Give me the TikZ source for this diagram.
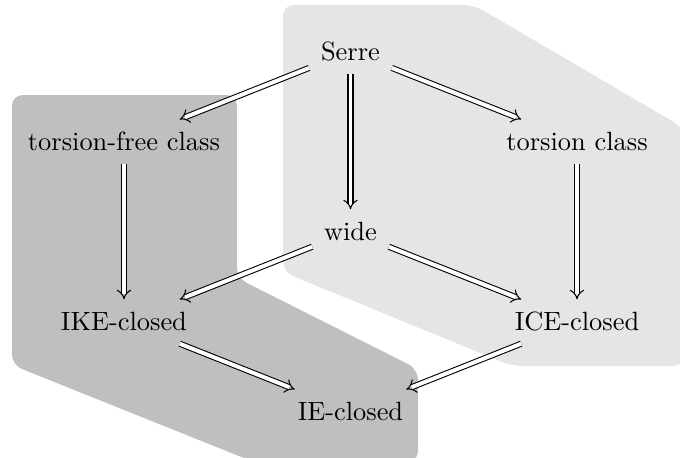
\documentclass[tikz,border=0pt]{standalone}
\usepackage{tikz}
\usetikzlibrary{arrows.meta}

\begin{document}
\begin{tikzpicture}[
cell/.style={anchor=base, text height=1.8ex, text depth=0.3ex, inner xsep=1ex, inner ysep=0.85ex},
imp/.style={double, double distance=1.5pt, -{Implies}},
region/.style={rounded corners=4pt}]

\def\cs{3.015}
\def\rs{1.198}

\useasboundingbox (-4.665,0.799) rectangle (4.386,-5.284);

% SHADED REGIONS
\fill[region, gray!20] (-0.898,0.732) -- (1.644,0.732) -- (4.439,-0.905) -- (4.439,-4.073)
-- (2.150,-4.073) -- (-0.898,-2.822) -- cycle;
\fill[region, gray!50] (-4.505,-0.466) -- (-1.511,-0.466) -- (-1.511,-2.902) -- (0.898,-4.113)
-- (0.898,-5.351) -- (-1.284,-5.351) -- (-4.505,-4.060) -- cycle;

% classes
\node[cell] (serre) at (0,0) {Serre};
\node[cell] (tf) at (-\cs,-\rs) {torsion-free class};
\node[cell] (tors) at (\cs,-\rs) {torsion class};
\node[cell] (wide) at (0,-2*\rs) {wide};
\node[cell] (ike) at (-\cs,-3*\rs) {IKE-closed};
\node[cell] (ice) at (\cs,-3*\rs) {ICE-closed};
\node[cell] (ie) at (0,-4*\rs) {IE-closed};

% implications
\draw[imp] (serre) -- (tf);
\draw[imp] (serre) -- (tors);
\draw[imp] (serre) -- (wide);
\draw[imp] (tf) -- (ike);
\draw[imp] (tors) -- (ice);
\draw[imp] (wide) -- (ike);
\draw[imp] (wide) -- (ice);
\draw[imp] (ike) -- (ie);
\draw[imp] (ice) -- (ie);

\end{tikzpicture}
\end{document}
